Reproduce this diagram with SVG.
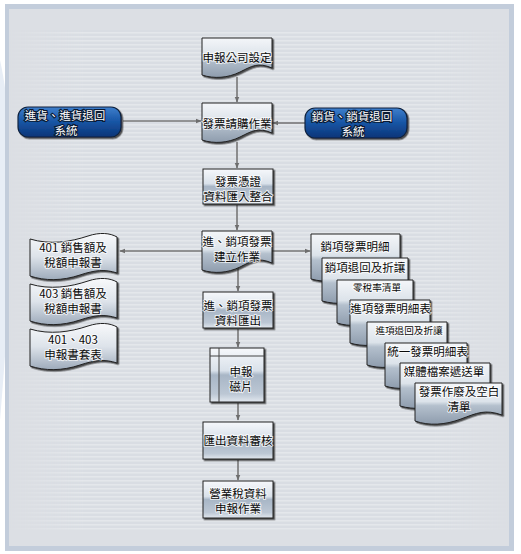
<svg xmlns="http://www.w3.org/2000/svg" width="521" height="554" viewBox="0 0 521 554">
<defs>
<linearGradient id="gBox" x1="0" y1="0" x2="0" y2="1">
<stop offset="0" stop-color="#f6f8fb"/>
<stop offset="0.42" stop-color="#d9e1ea"/>
<stop offset="0.5" stop-color="#a8b6c6"/>
<stop offset="0.85" stop-color="#bcc7d4"/>
<stop offset="1" stop-color="#e2e8ef"/>
</linearGradient>
<linearGradient id="gDoc" x1="0" y1="0" x2="0" y2="1">
<stop offset="0" stop-color="#f4f6f9"/>
<stop offset="0.45" stop-color="#dce3ea"/>
<stop offset="0.55" stop-color="#b4c0cd"/>
<stop offset="1" stop-color="#8e9cad"/>
</linearGradient>
<linearGradient id="gFlag" x1="0" y1="0" x2="0" y2="1">
<stop offset="0" stop-color="#f8f9fb"/>
<stop offset="0.5" stop-color="#dde3ea"/>
<stop offset="1" stop-color="#9eabbb"/>
</linearGradient>
<linearGradient id="gBlue" x1="0" y1="0" x2="0" y2="1">
<stop offset="0" stop-color="#3f7fcc"/>
<stop offset="0.45" stop-color="#1a58a8"/>
<stop offset="1" stop-color="#0a3478"/>
</linearGradient>
<pattern id="stripes" width="8" height="4" patternUnits="userSpaceOnUse">
<rect width="8" height="4" fill="#d9dde3"/>
<rect y="0" width="8" height="1.6" fill="#e4e7eb"/>
</pattern>
<linearGradient id="fadeX" x1="0" y1="0" x2="1" y2="0">
<stop offset="0" stop-color="#fff" stop-opacity="0"/>
<stop offset="0.15" stop-color="#fff" stop-opacity="1"/>
<stop offset="0.85" stop-color="#fff" stop-opacity="1"/>
<stop offset="1" stop-color="#fff" stop-opacity="0"/>
</linearGradient>
<mask id="stripeMask">
<rect x="9" y="30" width="500" height="500" fill="url(#fadeX)"/>
</mask>
<filter id="sh" x="-10%" y="-10%" width="130%" height="140%">
<feDropShadow dx="1.5" dy="1.5" stdDeviation="0.7" flood-color="#1a1a1a" flood-opacity="0.75"/>
</filter>
<marker id="arr" viewBox="0 0 10 10" refX="9" refY="5" markerWidth="6" markerHeight="6" orient="auto" markerUnits="userSpaceOnUse">
<path d="M0,1 L10,5 L0,9 z" fill="#6e6e6e"/>
</marker>
</defs>
<style>
.box{fill:url(#gBox);stroke:#222;stroke-width:1;filter:url(#sh)}
.doc{fill:url(#gDoc);stroke:#222;stroke-width:1;filter:url(#sh)}
.flag{fill:url(#gFlag);stroke:#222;stroke-width:1;filter:url(#sh)}
.pill{fill:url(#gBlue);stroke:#10233f;stroke-width:1.2;filter:url(#sh)}
.t{font-family:"Noto Sans CJK TC","Noto Sans CJK SC",sans-serif;font-size:11.5px;fill:#0a0a0a;text-anchor:middle;dominant-baseline:central;stroke:#fff;stroke-width:2;stroke-opacity:0.7;paint-order:stroke}
.ts{font-size:9.6px}
.tw{font-family:"Noto Sans CJK TC","Noto Sans CJK SC",sans-serif;font-size:11.5px;fill:#fff;text-anchor:middle;dominant-baseline:central;stroke:#0a1a33;stroke-width:2.2;paint-order:stroke}
.c{stroke:#777;stroke-width:1.6;fill:none;marker-end:url(#arr)}
</style>
<rect width="521" height="554" fill="#fff"/>
<path d="M0,60 C20,150 10,300 0,420 L0,60 Z" fill="#e8eef6"/>
<rect x="5" y="4" width="509" height="547" fill="#c3cddb"/>
<rect x="9" y="9" width="500" height="537" fill="#dcdfe4"/>
<rect x="9" y="30" width="500" height="500" fill="url(#stripes)" mask="url(#stripeMask)"/>

<g id="connectors">
<line class="c" x1="237" y1="77" x2="237" y2="102"/>
<line class="c" x1="237" y1="142" x2="237" y2="168"/>
<line class="c" x1="123" y1="121" x2="201" y2="121"/>
<line class="c" x1="305" y1="123" x2="273" y2="123"/>
<line class="c" x1="237" y1="205" x2="237" y2="230"/>
<line class="c" x1="202" y1="251" x2="120" y2="251"/>
<line class="c" x1="272" y1="251" x2="310" y2="251"/>
<line class="c" x1="238" y1="268" x2="238" y2="291"/>
<line class="c" x1="238" y1="329" x2="238" y2="347"/>
<line class="c" x1="238" y1="403" x2="238" y2="420"/>
<line class="c" x1="238" y1="460" x2="238" y2="480"/>
</g>

<g id="n_company">
<path class="doc" d="M202,38 H272 V68 C258,62 252,66 240,72 C228,78 214,79 202,75 Z"/>
<text class="t" x="237" y="57">申報公司設定</text>
</g>
<g id="n_purchase">
<path class="doc" d="M202,103 H272 V133 C258,127 252,131 240,137 C228,143 214,144 202,140 Z"/>
<text class="t" x="237" y="123">發票請購作業</text>
</g>
<g id="n_in_sys">
<rect class="pill" x="18" y="107" width="103" height="30" rx="10"/>
<text class="tw" x="65" y="114.5">進貨、進貨退回</text>
<text class="tw" x="66" y="130">系統</text>
</g>
<g id="n_out_sys">
<rect class="pill" x="305" y="108" width="102" height="30" rx="10"/>
<text class="tw" x="352" y="115.5">銷貨、銷貨退回</text>
<text class="tw" x="353" y="131">系統</text>
</g>
<g id="n_import">
<rect class="box" x="203" y="169" width="70" height="35"/>
<text class="t" x="238" y="181">發票憑證</text>
<text class="t" x="238" y="196">資料匯入整合</text>
</g>
<g id="n_build">
<path class="doc" d="M202,231 H272 V263 C258,257 252,261 240,267 C228,273 214,274 202,270 Z"/>
<text class="t" x="237" y="241">進、銷項發票</text>
<text class="t" x="237" y="256">建立作業</text>
</g>
<g id="n_export">
<rect class="box" x="203" y="292" width="70" height="36"/>
<text class="t" x="238" y="304.5">進、銷項發票</text>
<text class="t" x="238" y="319.5">資料匯出</text>
</g>
<g id="n_disk">
<rect class="box" x="210" y="348" width="54" height="54"/>
<line x1="219" y1="348" x2="219" y2="402" stroke="#444" stroke-width="1"/>
<line x1="210" y1="356" x2="264" y2="356" stroke="#444" stroke-width="1"/>
<text class="t" x="241" y="371">申報</text>
<text class="t" x="241" y="386">磁片</text>
</g>
<g id="n_review">
<rect class="box" x="203" y="422" width="70" height="37"/>
<text class="t" x="238" y="440">匯出資料審核</text>
</g>
<g id="n_report">
<rect class="box" x="203" y="481" width="70" height="37"/>
<text class="t" x="238" y="492.5">營業稅資料</text>
<text class="t" x="238" y="507.5">申報作業</text>
</g>

<g id="n_401">
<path class="flag" d="M30,239 C50,245 70,242 88,236 C100,232 110,233 117,237 V273 C105,269 95,270 80,275 C62,281 45,281 30,276 Z"/>
<text class="t" x="73" y="246.5">401 銷售額及</text>
<text class="t" x="73" y="261.5">稅額申報書</text>
</g>
<g id="n_403">
<path class="flag" d="M30,284 C50,290 70,287 88,281 C100,277 110,278 117,282 V318 C105,314 95,315 80,320 C62,326 45,326 30,321 Z"/>
<text class="t" x="73" y="292.5">403 銷售額及</text>
<text class="t" x="73" y="307.5">稅額申報書</text>
</g>
<g id="n_40x">
<path class="flag" d="M30,329 C50,335 70,332 88,326 C100,322 110,323 117,327 V363 C105,359 95,360 80,365 C62,371 45,371 30,366 Z"/>
<text class="t" x="73" y="338.5">401、403</text>
<text class="t" x="73" y="353.5">申報書套表</text>
</g>

<g id="d_a">
<path class="doc" d="M311,234 H400 V272 C382,266 374,270 358,276 C342,282 326,283 311,279 Z"/>
<text class="t" x="355" y="246">銷項發票明細</text>
</g>
<g id="d_b">
<path class="doc" d="M322,258 H408 V294 C391,288 383,292 368,298 C352,304 337,305 322,301 Z"/>
<text class="t" x="365" y="266.5">銷項退回及折讓</text>
</g>
<g id="d_c">
<path class="doc" d="M337,280 H413 V316 C398,310 391,314 377,320 C363,326 350,327 337,323 Z"/>
<text class="t ts" x="377" y="287">零稅率清單</text>
</g>
<g id="d_d">
<path class="doc" d="M350,300 H430 V336 C414,330 407,334 392,340 C377,346 363,347 350,343 Z"/>
<text class="t" x="390.5" y="308">進項發票明細表</text>
</g>
<g id="d_e">
<path class="doc" d="M367,322 H447 V358 C431,352 424,356 409,362 C394,368 380,369 367,365 Z"/>
<text class="t ts" x="409" y="330">進項退回及折讓</text>
</g>
<g id="d_f">
<path class="doc" d="M385,343 H467 V379 C451,373 443,377 428,383 C412,389 398,390 385,386 Z"/>
<text class="t" x="427.5" y="350.5">統一發票明細表</text>
</g>
<g id="d_g">
<path class="doc" d="M400,363 H490 V399 C472,393 464,397 447,403 C430,409 414,410 400,406 Z"/>
<text class="t" x="444" y="370.5">媒體檔案遞送單</text>
</g>
<g id="d_h">
<path class="doc" d="M415,383 H502 V415 C485,409 477,413 461,419 C445,425 429,426 415,421 Z"/>
<text class="t" x="459" y="391">發票作廢及空白</text>
<text class="t" x="459" y="406">清單</text>
</g>
</svg>
